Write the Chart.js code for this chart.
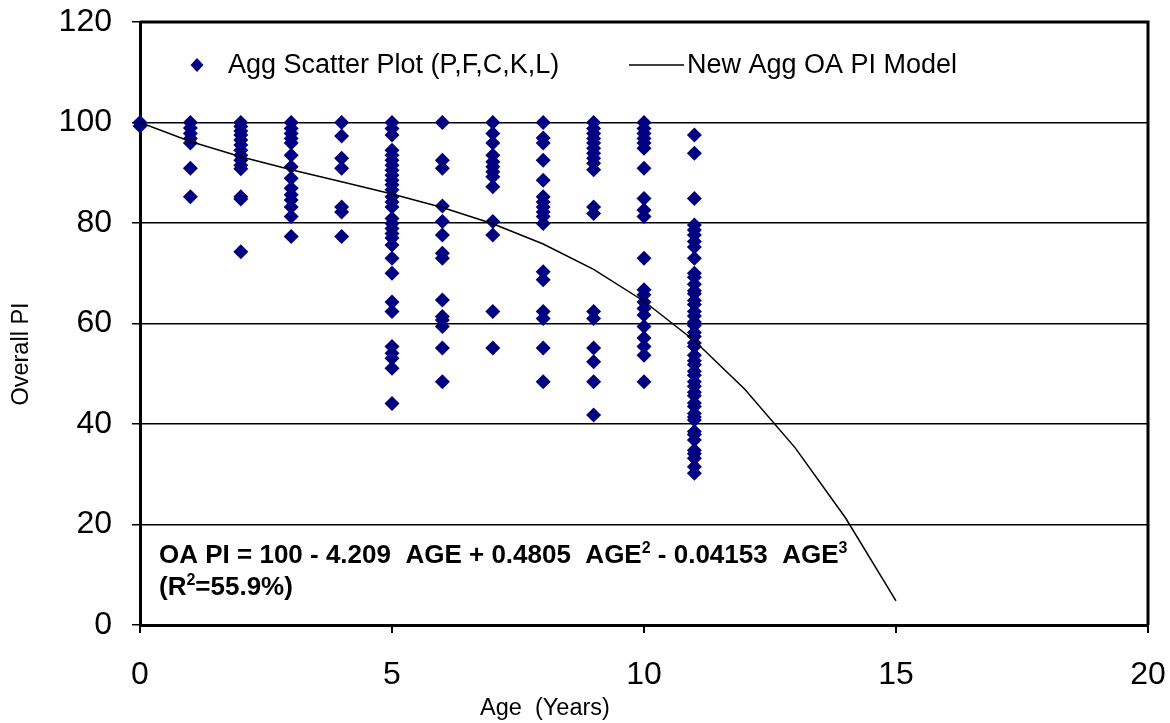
<!DOCTYPE html>
<html>
<head>
<meta charset="utf-8">
<title>Overall PI vs Age</title>
<script src="https://cdn.jsdelivr.net/npm/chart.js@4.4.1/dist/chart.umd.min.js"></script>
<style>
  html, body { margin: 0; padding: 0; background: #fff; }
  #wrap { width: 1170px; height: 723px; position: relative; }
</style>
</head>
<body>
<div id="wrap"><canvas id="c" width="1170" height="723"></canvas></div>
<script>
// Observed Overall PI values, grouped by age (years)
const age0  = [100, 99.3];
const age1  = [100, 98.9, 97.8, 96.8, 95.9, 90.9, 85.2];
const age2  = [100, 99.2, 98.3, 97.5, 96.5, 95.5, 94.5, 93.5, 92.5, 91.5, 90.8, 85.2, 84.8, 74.3];
const age3  = [100, 98.8, 97.8, 96.8, 95.9, 93.5, 91.2, 88.9, 86.9, 85.6, 84.6, 83.2, 81.3, 77.3];
const age4  = [100, 97.3, 92.9, 90.9, 83.2, 82.2, 77.3];
const age5  = [100, 98.8, 97.5, 94.5, 93.5, 92.5, 91.5, 90.5, 89.5, 88.5, 87.6, 86.6, 85.2, 84.2, 83.2,
               80.9, 79.9, 78.9, 77.9, 77.0, 75.6, 73.0, 70.0, 64.3, 62.4, 55.4, 54.1, 53.1, 51.1, 44.1];
const age6  = [100, 92.5, 90.9, 83.4, 80.3, 77.6, 74.0, 73.0, 64.7, 61.4, 60.7, 59.4, 55.1, 48.4];
const age7  = [100, 97.8, 95.9, 93.5, 92.2, 91.2, 90.2, 89.2, 87.2, 80.3, 77.6, 62.4, 55.1];
const age8  = [100, 96.9, 95.9, 92.5, 88.5, 85.2, 84.2, 83.2, 82.2, 81.3, 79.9, 70.3, 68.7, 62.4, 61.0, 55.1, 48.4];
const age9  = [100, 98.8, 97.8, 96.8, 95.9, 94.9, 93.9, 92.9, 91.9, 90.6, 83.2, 81.9, 62.4, 61.0, 55.1, 52.4, 48.4, 41.8];
const age10 = [100, 98.8, 97.8, 96.8, 95.9, 94.9, 90.9, 84.9, 82.6, 81.3, 73.0, 66.7, 65.7, 64.3, 63.0, 61.7,
               59.4, 57.1, 55.4, 53.7, 48.4];
const age11 = [97.5, 93.9, 84.9, 79.6, 78.6, 77.6, 76.3, 75.2, 73.0, 70.0, 69.2, 67.8, 66.5, 65.9, 64.6, 63.8,
               62.4, 61.5, 60.3, 59.6, 58.2, 57.4, 56.1, 55.4, 53.7, 52.6, 51.8, 50.5, 49.7, 48.4, 47.5, 46.3,
               45.6, 44.2, 43.5, 42.1, 41.4, 40.8, 38.5, 37.9, 36.8, 34.8, 34.1, 33.2, 31.5, 30.2];
const observedByAge = [age0, age1, age2, age3, age4, age5, age6, age7, age8, age9, age10, age11];

// Cubic model: OA PI = 100 - 4.209 AGE + 0.4805 AGE^2 - 0.04153 AGE^3, tabulated per year
const modelAges = [0, 1, 2, 3, 4, 5, 6, 7, 8, 9, 10, 11, 12, 13, 14, 15];
const modelPI   = [100, 96.23, 93.17, 90.58, 88.19, 85.78, 83.07, 79.84, 75.82, 70.76, 64.43, 56.57, 46.92, 35.25, 21.29, 4.81];

// Axis ticks
const xTicks = [0, 5, 10, 15, 20];
const yTicks = [0, 20, 40, 60, 80, 100, 120];

const scatterPoints = [];
observedByAge.forEach((vals, age) => vals.forEach(v => scatterPoints.push({ x: age, y: v })));
const modelPoints = modelAges.map((a, i) => ({ x: a, y: modelPI[i] }));

const SANS = "'Liberation Sans', Arial, sans-serif";
const NAVY = '#000080';

// keep tick labels from pushing the plot frame inward
const noOverflow = s => { s.paddingTop = 0; s.paddingBottom = 0; s.paddingLeft = 0; s.paddingRight = 0; };

// Frame, in-plot legend, regression note and axis titles
const overlay = {
  id: 'overlay',
  afterDatasetsDraw(chart) {
    const { ctx, chartArea: a } = chart;
    ctx.save();
    ctx.strokeStyle = '#000';
    ctx.lineWidth = 3;
    ctx.beginPath();
    ctx.moveTo(a.left, a.top);
    ctx.lineTo(a.right, a.top);
    ctx.lineTo(a.right, a.bottom);
    ctx.stroke();
    ctx.restore();
  },
  afterDraw(chart) {
    const { ctx } = chart;
    ctx.save();
    ctx.textBaseline = 'middle';
    ctx.textAlign = 'left';

    // legend: scatter entry
    ctx.fillStyle = NAVY;
    ctx.beginPath();
    ctx.moveTo(197, 58); ctx.lineTo(203.5, 65); ctx.lineTo(197, 72); ctx.lineTo(190.5, 65);
    ctx.closePath(); ctx.fill();
    ctx.fillStyle = '#000';
    ctx.font = '27px ' + SANS;
    ctx.fillText('Agg Scatter Plot (P,F,C,K,L)', 228, 66);
    // legend: model entry
    ctx.strokeStyle = '#000';
    ctx.lineWidth = 1.5;
    ctx.beginPath(); ctx.moveTo(629, 65); ctx.lineTo(684, 65); ctx.stroke();
    ctx.fillText('New Agg OA PI Model', 687, 66);

    // regression note with superscripts
    ctx.textBaseline = 'alphabetic';
    const big = 'bold 26px ' + SANS;
    const sup = 'bold 16px ' + SANS;
    const runs = (parts, x, y) => {
      parts.forEach(p => {
        ctx.font = p.s ? sup : big;
        ctx.fillText(p.t, x, p.s ? y - 10 : y);
        x += ctx.measureText(p.t).width;
      });
    };
    runs([{ t: 'OA PI = 100 - 4.209  AGE + 0.4805  AGE' }, { t: '2', s: 1 },
          { t: ' - 0.04153  AGE' }, { t: '3', s: 1 }], 159, 563);
    runs([{ t: '(R' }, { t: '2', s: 1 }, { t: '=55.9%)' }], 159, 595);

    // axis titles
    ctx.font = '23.5px ' + SANS;
    ctx.textAlign = 'center';
    ctx.textBaseline = 'middle';
    ctx.fillText('Age  (Years)', 545, 709);
    ctx.translate(22, 354);
    ctx.rotate(-Math.PI / 2);
    ctx.fillText('Overall PI', 0, 0);
    ctx.restore();
  }
};

new Chart(document.getElementById('c'), {
  type: 'scatter',
  data: {
    datasets: [
      {
        type: 'line',
        label: 'New Agg OA PI Model',
        data: modelPoints,
        borderColor: '#000',
        borderWidth: 1.5,
        pointRadius: 0,
        fill: false,
        tension: 0,
        order: 0
      },
      {
        label: 'Agg Scatter Plot (P,F,C,K,L)',
        data: scatterPoints,
        pointStyle: 'rectRot',
        pointRadius: 7.5,
        backgroundColor: NAVY,
        borderColor: NAVY,
        borderWidth: 0,
        clip: false,
        order: 1
      }
    ]
  },
  options: {
    responsive: false,
    animation: false,
    layout: { padding: { top: 22, right: 22, left: 0, bottom: 0 } },
    plugins: { legend: { display: false }, tooltip: { enabled: false } },
    scales: {
      x: {
        type: 'linear',
        min: 0, max: 20,
        afterBuildTicks: s => { s.ticks = xTicks.map(v => ({ value: v })); },
        afterFit: s => { s.height = 98; noOverflow(s); },
        ticks: { color: '#000', font: { family: SANS, size: 32 }, padding: 23, maxRotation: 0 },
        grid: { drawOnChartArea: false, drawTicks: true, tickLength: 8, color: '#000', lineWidth: 2 },
        border: { display: true, color: '#000', width: 3 }
      },
      y: {
        type: 'linear',
        min: 0, max: 120,
        afterBuildTicks: s => { s.ticks = yTicks.map(v => ({ value: v })); },
        afterFit: s => { s.width = 140; noOverflow(s); },
        ticks: { color: '#000', font: { family: SANS, size: 32 }, padding: 20 },
        grid: { color: '#000', lineWidth: 1.5, tickLength: 8 },
        border: { display: true, color: '#000', width: 3 }
      }
    }
  },
  plugins: [overlay]
});
</script>
</body>
</html>
